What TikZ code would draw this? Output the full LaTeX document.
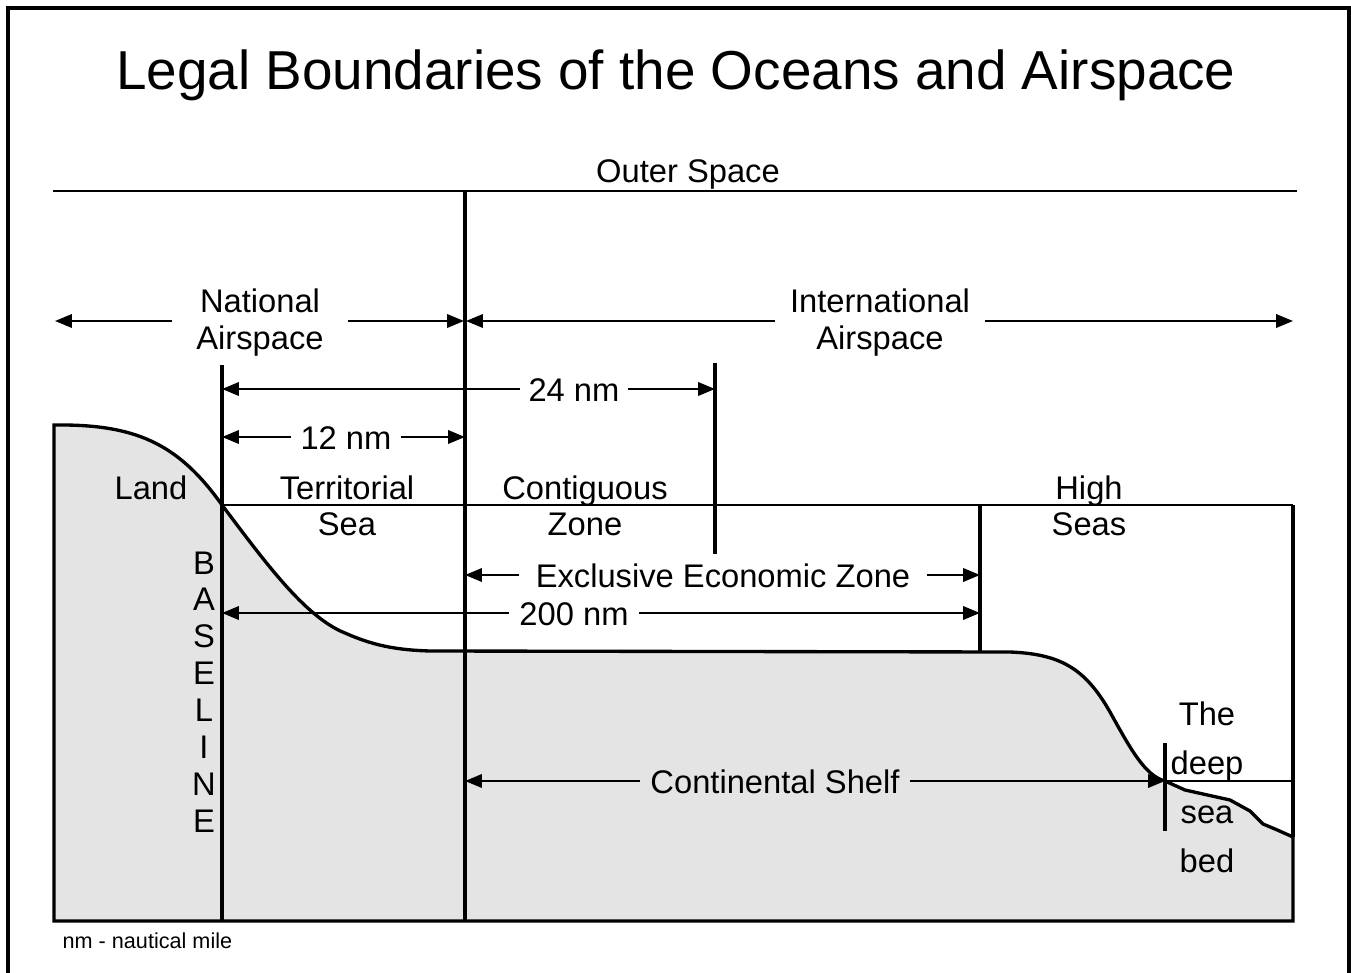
\documentclass[tikz,border=0pt]{standalone}
\usepackage{fontspec}
\setmainfont{Liberation Sans}
\usetikzlibrary{arrows.meta}
\definecolor{landgrey}{HTML}{E4E4E4}
\newcommand{\stk}[1]{\begin{tabular}[t]{@{}c@{}}#1\end{tabular}}
\begin{document}
\begin{tikzpicture}[x=0.01cm,y=-0.01cm,
  lbl/.style={font=\fontsize{9.3}{10.5}\selectfont, anchor=base, inner ysep=0pt, inner xsep=2.6pt},
  dim/.style={line width=0.65pt, -{Triangle[length=4.8pt,width=3.8pt]}},
  frameline/.style={line width=0.9pt},
  mainline/.style={line width=0.95pt},
  thinline/.style={line width=0.7pt}]
\useasboundingbox (0,0) rectangle (1351,973);
% frame
\draw[frameline] (8,976) -- (8,8) -- (1349,8) -- (1349,976);
% land / sea floor
\filldraw[fill=landgrey, mainline] (54,921) -- (54,425)
  .. controls (135,424) and (178,443) .. (222,505)
  .. controls (265,562) and (305,617) .. (345,633)
  .. controls (372,645) and (395,650) .. (430,651) -- (1010,652)
  .. controls (1060,654) and (1085,668) .. (1110,712)
  .. controls (1130,748) and (1145,776) .. (1165,781)
  -- (1185,790) -- (1230,800) -- (1250,811) -- (1263,824) -- (1275,829) -- (1293,837)
  -- (1293,921) -- cycle;
% structural lines
\coordinate (osL) at (53,191);
\coordinate (osR) at (1297,191);
\draw[thinline] (osL) -- (osR);
\coordinate (v12top) at (465,191);
\coordinate (v12bot) at (465,921);
\draw[mainline] (v12top) -- (v12bot);
\coordinate (bltop) at (222,365);
\coordinate (blbot) at (222,921);
\draw[mainline] (bltop) -- (blbot);
\coordinate (v24top) at (715,363);
\coordinate (v24bot) at (715,554);
\draw[mainline] (v24top) -- (v24bot);
\coordinate (seaL) at (222,505);
\coordinate (seaR) at (1293,505);
\draw[thinline] (seaL) -- (seaR);
\draw[mainline] (seaR) -- (1293,837);
\coordinate (hsTop) at (980,505);
\coordinate (hsBot) at (980,651);
\draw[mainline] (hsTop) -- (hsBot);
\coordinate (dsL) at (1165,781);
\coordinate (dsR) at (1293,781);
\draw[thinline] (dsL) -- (dsR);
\coordinate (tickT) at (1165,743);
\coordinate (tickB) at (1165,831);
\draw[mainline] (tickT) -- (tickB);
% texts
\node[font=\fontsize{15.6}{18}\selectfont, anchor=base, inner sep=0pt] (title) at (676,89.5) {Legal Boundaries of the Oceans and Airspace};
\node[lbl] (outer) at (688,183) {Outer Space};
\node[lbl, inner xsep=6.8pt] (nat) at (260,313) {\stk{National\\Airspace}};
\node[lbl, inner xsep=4pt] (int) at (880,313) {\stk{International\\Airspace}};
\node[lbl, inner xsep=2.3pt] (nm24) at (574,401) {24 nm};
\node[lbl, inner xsep=2.4pt] (nm12) at (346,449) {12 nm};
\node[lbl] (land) at (151,499) {Land};
\node[lbl] (terr) at (347,499) {\stk{Territorial\\Sea}};
\node[lbl] (contig) at (585,499) {\stk{Contiguous\\Zone}};
\node[lbl] (high) at (1089,499) {\stk{High\\Seas}};
\node[lbl, inner xsep=4.5pt] (eez) at (723,587) {Exclusive Economic Zone};
\node[lbl, inner xsep=2.8pt] (nm200) at (574,625) {200 nm};
\node[lbl, inner xsep=2.7pt] (shelf) at (775,793) {Continental Shelf};
\node[lbl] (baseline) at (204,574) {\stk{B\\A\\S\\E\\L\\I\\N\\E}};
\node[lbl, font=\fontsize{9.3}{13.94}\selectfont] (deep) at (1207,725) {\stk{The\\deep\\sea\\bed}};
\node[font=\fontsize{6.15}{7}\selectfont, anchor=base west, inner sep=0pt] (foot) at (62,948) {nm - nautical mile};
% arrow end points
\coordinate (natL) at (55,321);
\coordinate (natR) at (464,321);
\coordinate (intL) at (466,321);
\coordinate (intR) at (1293,321);
\coordinate (a24L) at (222,389);
\coordinate (a24R) at (715,389);
\coordinate (a12L) at (222,437);
\coordinate (a12R) at (465,437);
\coordinate (eezL) at (465,575);
\coordinate (eezR) at (980,575);
\coordinate (a200L) at (222,613);
\coordinate (a200R) at (980,613);
\coordinate (shL) at (465,781);
\coordinate (shR) at (1165,781);
% dimension arrows
\draw[dim] (nat.west |- natL) -- (natL);
\draw[dim] (nat.east |- natR) -- (natR);
\draw[dim] (int.west |- intL) -- (intL);
\draw[dim] (int.east |- intR) -- (intR);
\draw[dim] (nm24.west |- a24L) -- (a24L);
\draw[dim] (nm24.east |- a24R) -- (a24R);
\draw[dim] (nm12.west |- a12L) -- (a12L);
\draw[dim] (nm12.east |- a12R) -- (a12R);
\draw[dim] (eez.west |- eezL) -- (eezL);
\draw[dim] (eez.east |- eezR) -- (eezR);
\draw[dim] (nm200.west |- a200L) -- (a200L);
\draw[dim] (nm200.east |- a200R) -- (a200R);
\draw[dim] (shelf.west |- shL) -- (shL);
\draw[dim] (shelf.east |- shR) -- (shR);
\end{tikzpicture}
\end{document}
